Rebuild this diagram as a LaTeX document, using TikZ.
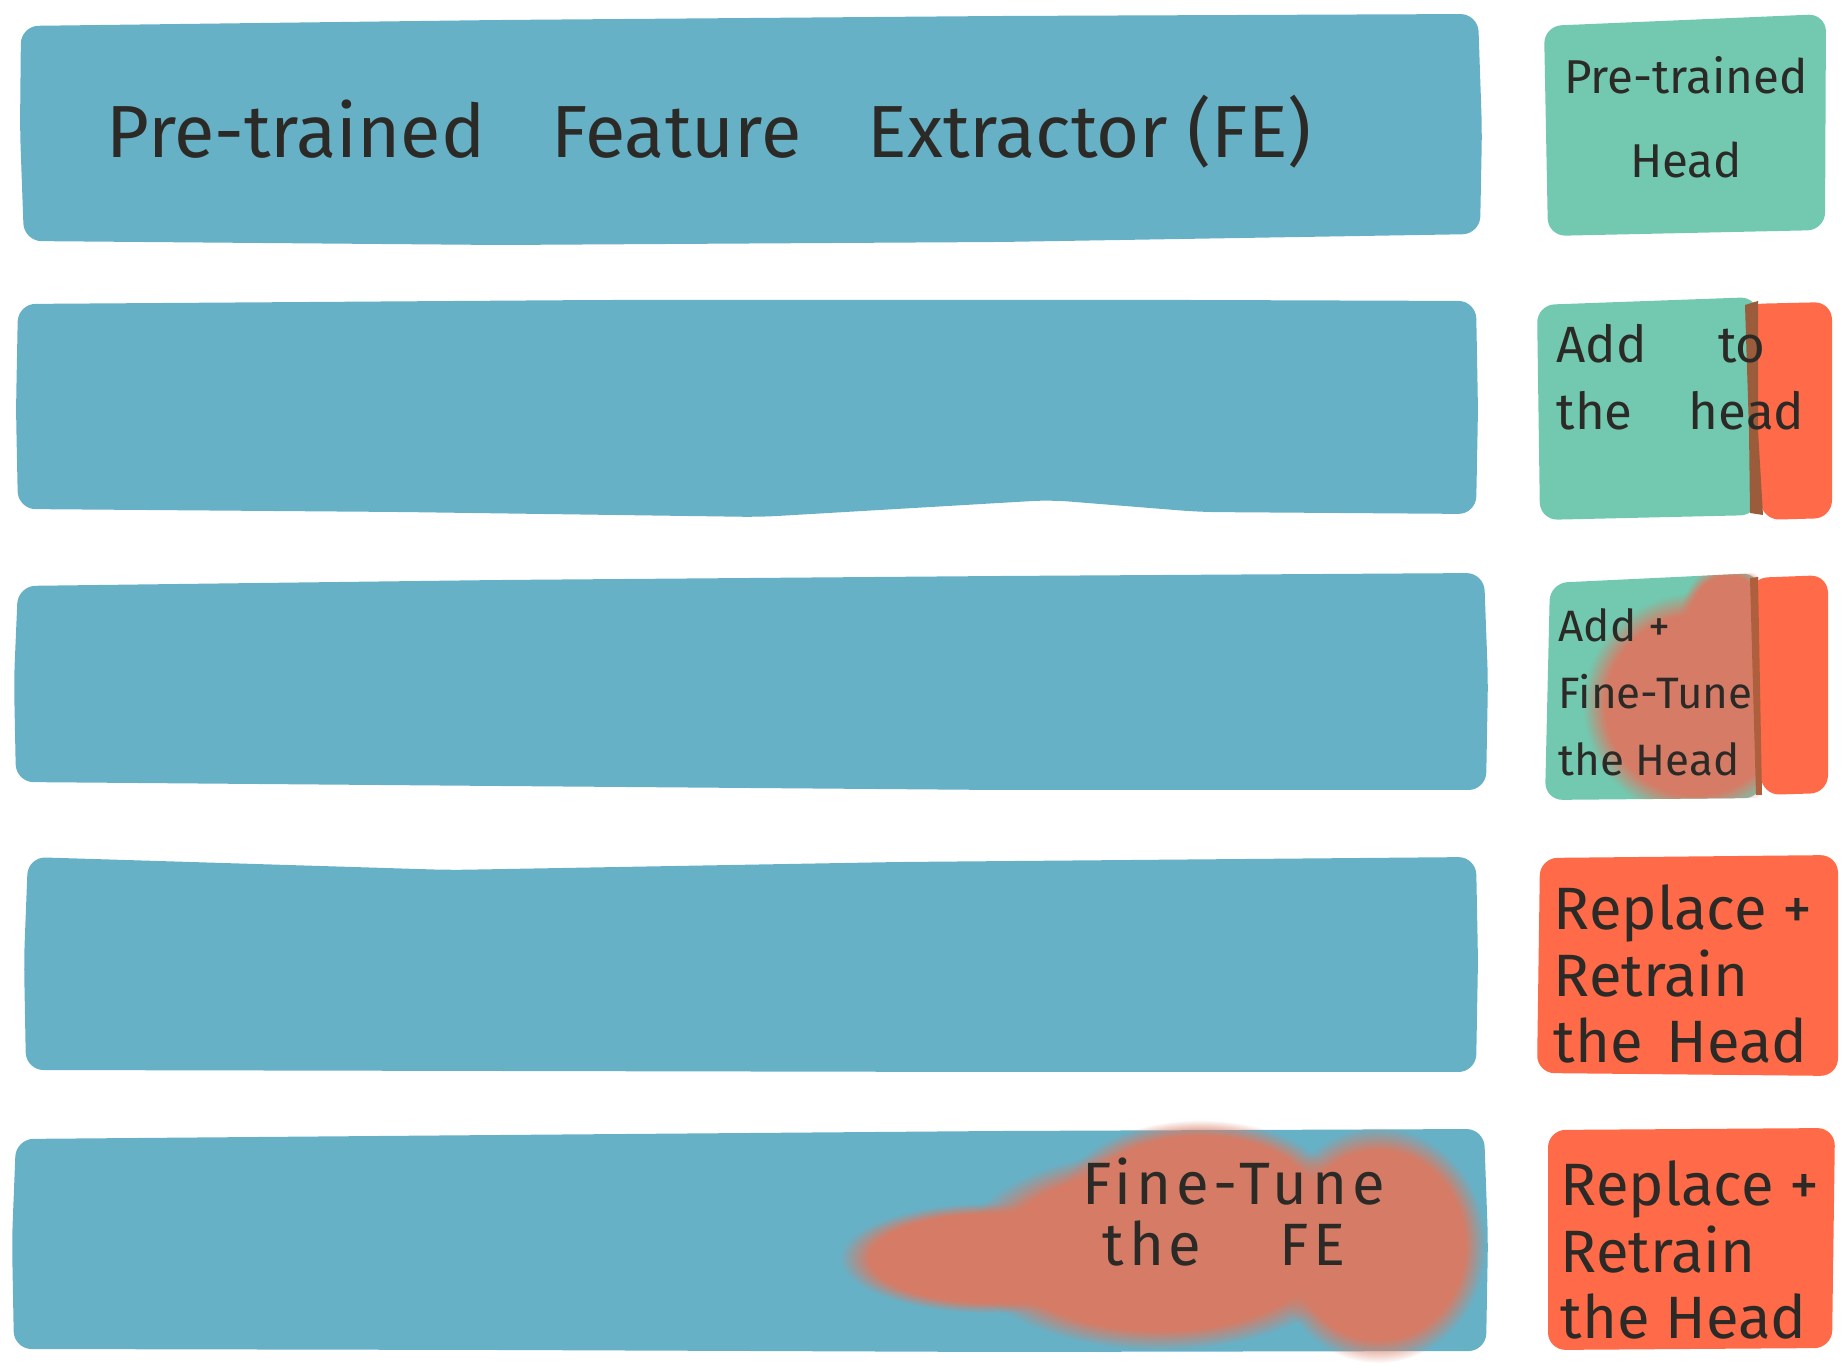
\documentclass[tikz,border=0pt]{standalone}
\usepackage{fontspec}
\setmainfont{Fira Sans}
\usetikzlibrary{fadings}
\definecolor{feblue}{HTML}{67B1C7}
\definecolor{headgreen}{HTML}{72C9B0}
\definecolor{newred}{HTML}{FF6B48}
\definecolor{overlapbrown}{HTML}{9A5C3A}
\definecolor{tuneorange}{HTML}{D67C66}
\definecolor{ink}{HTML}{2B2A26}
\begin{document}
\begin{tikzpicture}[x=0.01cm,y=-0.01cm,
	fe/.style={fill=feblue,rounded corners=5pt},
	oldhead/.style={fill=headgreen,rounded corners=5pt},
	newhead/.style={fill=newred,rounded corners=5pt},
	tune/.style={fill=tuneorange,path fading=circle with fuzzy edge 20 percent},
	headtxt/.style={text=ink,align=left,inner sep=0pt},
	fetxt/.style={text=ink,font=\fontsize{21}{25}\selectfont,inner sep=0pt}]
	\useasboundingbox (0,0) rectangle (1844,1370);
	%%%% Feature Extractor
	\fill[fe] (21,26) -- (500,20) -- (1000,16) -- (1478,14) -- (1482,130) -- (1480,234) -- (1000,242) -- (500,245) -- (24,241) -- (20,130) -- cycle;
	\fill[fe] (18,304) -- (600,300) -- (1200,300) -- (1476,301) -- (1478,410) -- (1476,514) -- (1200,512) -- (1050,500) -- (760,517) -- (400,512) -- (18,509) -- (16,410) -- cycle;
	\fill[fe] (18,586) -- (500,580) -- (1000,576) -- (1484,573) -- (1488,680) -- (1486,790) -- (1000,790) -- (500,786) -- (16,782) -- (14,680) -- cycle;
	\fill[fe] (28,857) -- (450,870) -- (900,862) -- (1476,857) -- (1478,960) -- (1476,1072) -- (1000,1072) -- (500,1071) -- (26,1070) -- (24,960) -- cycle;
	\fill[fe] (16,1139) -- (500,1135) -- (1000,1131) -- (1484,1129) -- (1488,1240) -- (1486,1351) -- (1000,1352) -- (500,1350) -- (14,1349) -- (12,1240) -- cycle;
	%%%% Heads
	% Pre-trained Head
	\fill[oldhead] (1544,26) -- (1826,14) -- (1825,230) -- (1548,236) -- cycle;
	% Add to the head
	\fill[oldhead] (1537,305) -- (1758,297) -- (1758,515) -- (1540,520) -- cycle;
	\fill[newhead] (1745,304) -- (1832,302) -- (1832,518) -- (1762,520) -- cycle;
	\fill[overlapbrown] (1745,305) -- (1758,301) -- (1758,430) -- (1763,515) -- (1750,513) -- (1749,430) -- cycle;
	% Add + Fine-Tune the Head
	\fill[oldhead] (1550,583) -- (1760,573) -- (1762,798) -- (1545,800) -- cycle;
	\begin{scope}
		\clip (1550,583) -- (1760,573) -- (1762,798) -- (1545,800) -- cycle;
		\fill[tune] (1695,705) ellipse (112 and 112);
		\fill[tune] (1728,625) ellipse (50 and 62);
	\end{scope}
	\fill[newhead] (1750,578) -- (1828,575) -- (1828,793) -- (1762,795) -- cycle;
	\fill[overlapbrown!80!newred] (1750,578) -- (1758,577) -- (1762,795) -- (1756,795) -- cycle;
	% Replace + Retrain the Head
	\fill[newhead] (1540,858) -- (1838,855) -- (1838,1076) -- (1537,1073) -- cycle;
	\fill[newhead] (1548,1130) -- (1835,1128) -- (1832,1348) -- (1548,1350) -- cycle;
	%%%% Fine-Tune the FE
	\fill[tune] (990,1258) ellipse (150 and 55);
	\fill[tune] (1160,1250) ellipse (200 and 100);
	\fill[tune] (1200,1200) ellipse (140 and 80);
	\fill[tune] (1378,1245) ellipse (108 and 118);
	%%%% Texts
	\node[fetxt,anchor=west] (fetitle) at (106,132) {Pre-trained\hspace{0.9em}Feature\hspace{0.9em}Extractor (FE)};
	\node[headtxt,align=center,font=\fontsize{13.5}{24}\selectfont] (pretxt) at (1686,117) {Pre-trained\\Head};
	\node[headtxt,anchor=west,font=\fontsize{14.5}{19}\selectfont] (addtxt) at (1556,377) {Add\hspace{1.4em}to\\the\hspace{1.1em}head};
	\node[headtxt,anchor=west,font=\fontsize{12.5}{19}\selectfont] (finetxt) at (1558,692) {Add +\\Fine-Tune\\the Head};
	\node[headtxt,anchor=west,font=\fontsize{17}{19}\selectfont] (retraintxt) at (1553,974) {Replace +\\Retrain\\the\hspace{0.4em}Head};
	\node[headtxt,anchor=west,font=\fontsize{17}{19}\selectfont] (replacetxt) at (1560,1250) {Replace +\\Retrain\\the Head};
	\node[headtxt,anchor=west,font=\fontsize{17}{20}\selectfont\addfontfeatures{LetterSpace=8}] (fetune) at (1082,1182) {Fine-Tune};
	\node[headtxt,anchor=west,font=\fontsize{17}{20}\selectfont\addfontfeatures{LetterSpace=8}] (fethe) at (1102,1244) {the\hspace{1.3em}FE};
\end{tikzpicture}
\end{document}
